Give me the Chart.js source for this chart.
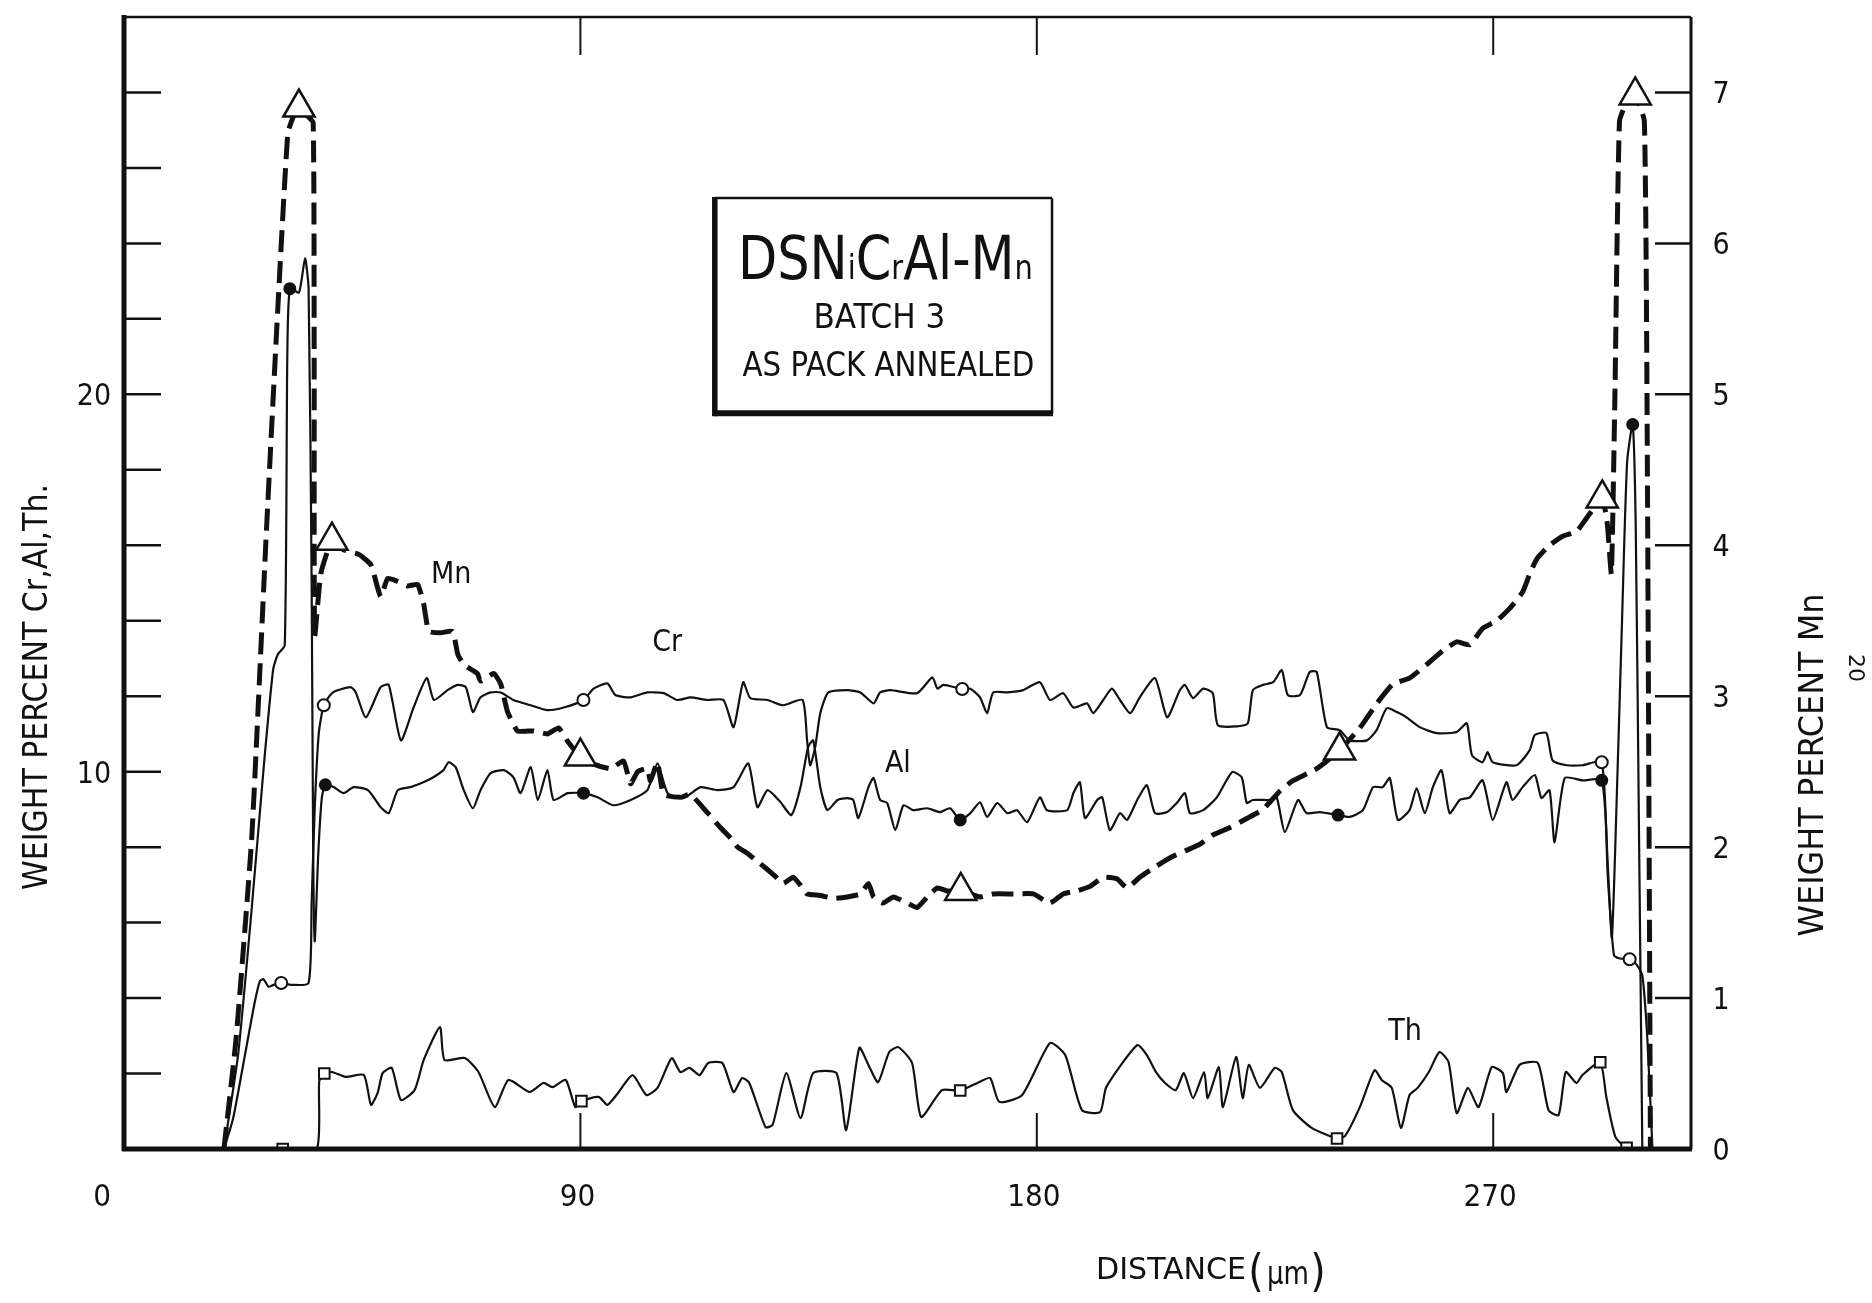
<!DOCTYPE html>
<html>
<head>
<meta charset="utf-8">
<script src="https://cdn.jsdelivr.net/npm/chart.js@4.4.1/dist/chart.umd.min.js"></script>
<style>
  html, body { margin: 0; padding: 0; background: #fff; }
  canvas { display: block; }
</style>
</head>
<body>
<canvas id="profileChart" width="1872" height="1303"></canvas>
<script>
// distance (um), weight percent
const crProfile = [[19.7,0],[21.5,0.8],[24.0,2.6],[25.8,3.9],[26.8,4.45],[27.5,4.5],[28.5,4.3],[29.5,4.35],[31.0,4.4],[33.0,4.35],[36.4,4.4],[37.0,6.5],[37.6,9.0],[38.4,11.0],[39.4,11.76],
  [41.2,12.1],[44.7,12.24],[45.7,12.1],[47.7,11.44],[50.6,12.24],[52.2,12.3],[54.6,10.83],[57.1,11.7],[59.7,12.48],[61.1,11.9],[63.8,12.16],[65.8,12.3],[67.4,12.24],[68.8,11.58],[70.3,11.97],[72.3,12.1],[74.3,12.1],[76.8,11.9],[80.2,11.76],[83.5,11.63],[86.7,11.7],[90.6,11.9],
  [92.6,12.2],[95.3,12.34],[96.9,12.03],[99.9,11.97],[103.2,12.1],[106.4,12.08],[109.1,11.9],[111.7,11.97],[115.0,11.9],[118.2,11.9],[120.2,11.18],[122.1,12.37],[123.5,11.95],[126.9,11.9],[130.0,11.76],[133.8,11.9],
  [134.7,10.83],[135.3,10.17],[136.3,10.65],[137.3,11.55],[138.9,12.1],[142.6,12.16],[145.2,12.1],[147.8,11.81],[149.1,12.1],[151.1,12.16],[156.4,12.08],[159.4,12.5],[160.4,12.2],[161.6,12.3],[165.3,12.19],[166.9,12.2],[168.8,11.97],[170.2,11.55],[171.4,12.1],[174.2,12.1],[177.3,12.16],[180.6,12.37],[182.6,11.9],[185.2,12.08],[187.2,11.7],[189.9,11.81],[191.1,11.55],[193.1,11.9],[194.8,12.2],[196.4,11.9],[198.4,11.55],[200.3,11.97],[203.3,12.48],[205.7,11.44],[208.2,12.16],[209.2,12.3],[210.8,11.95],[212.8,12.2],[214.7,12.08],[215.7,11.23],[219.5,11.2],[221.6,11.28],[222.6,12.16],[224.6,12.3],[226.6,12.37],[228.3,12.69],[229.5,12.03],[231.9,12.03],[233.8,12.64],[235.2,12.64],[237.2,11.18],[239.7,11.1],[241.7,10.83],[245.1,10.83],[247.0,11.1],[249.0,11.68],[251.0,11.58],[252.9,11.44],[255.5,11.18],[258.9,11.02],[262.8,11.05],[264.8,11.28],[265.8,10.44],[267.9,10.25],[268.9,10.52],[269.9,10.25],[274.6,10.17],[277.2,10.57],[278.2,10.97],[280.5,11.02],[281.7,10.3],[284.5,10.17],[287.6,10.17],[291.4,10.25],
  [292.6,7.2],[293.8,5.14],[295.0,5.05],[296.9,5.03],[298.2,4.9],[299.4,4.6],[300.4,2.9],[301.4,0]];

const alProfile = [[19.7,0],[22.5,2.5],[25.2,6.4],[27.6,10.2],[29.4,12.7],[30.3,13.1],[31.7,13.35],[32.2,21.0],[32.7,22.8],[34.5,22.7],[35.7,23.6],[36.4,22.8],[37.0,15.0],[37.3,8.0],[37.6,5.5],[38.3,7.8],[39.0,9.3],[39.7,9.65],
  [41.4,9.59],[43.3,9.43],[45.3,9.59],[48.1,9.51],[50.6,9.06],[52.2,8.9],[54.0,9.51],[56.5,9.59],[59.9,9.77],[63.0,10.04],[64.0,10.25],[65.4,10.12],[67.0,9.51],[68.8,9.03],[70.3,9.51],[72.3,9.96],[74.9,10.04],[76.8,9.85],[78.2,9.43],[80.2,10.12],[81.6,9.25],[83.5,10.04],[84.7,9.25],[87.5,9.43],[90.6,9.43],
  [93.4,9.32],[96.5,9.11],[99.9,9.25],[103.2,9.51],[105.2,10.22],[107.2,9.43],[110.3,9.3],[113.7,9.59],[117.0,9.51],[120.2,9.59],[123.1,10.22],[124.9,9.06],[126.9,9.51],[129.4,9.2],[131.6,8.85],[133.4,9.59],[134.9,10.65],[135.9,10.83],[137.3,9.59],[138.7,8.98],[140.7,9.25],[142.6,9.3],[143.8,9.25],[144.8,8.77],[146.8,9.59],[147.8,9.83],[149.1,9.25],[150.5,9.17],[152.1,8.45],[153.7,9.11],[155.6,8.98],[158.4,9.03],[160.9,8.93],[162.9,9.03],[164.9,8.72],
  [166.9,8.9],[168.8,9.19],[170.2,8.8],[172.2,9.17],[174.2,8.9],[176.1,8.98],[178.1,8.66],[180.6,9.32],[182.0,8.98],[186.0,8.98],[187.2,9.43],[188.5,9.72],[189.5,8.77],[191.9,9.25],[192.9,9.32],[194.4,8.45],[196.4,8.9],[197.8,8.72],[199.8,9.25],[201.7,9.64],[203.3,8.9],[205.7,8.93],[207.6,9.17],[209.2,9.43],[210.2,8.9],[212.8,8.98],[215.5,9.32],[218.5,9.99],[220.4,9.85],[221.4,9.17],[222.6,9.25],[226.0,9.25],[227.3,9.32],[228.9,8.4],[231.5,9.25],[233.2,8.9],[235.8,8.93],[239.4,8.85],
  [241.7,8.8],[244.3,8.98],[246.3,9.59],[248.2,9.59],[249.6,9.83],[251.2,8.72],[253.5,8.98],[254.9,9.56],[256.5,8.9],[258.1,9.59],[259.8,10.04],[261.4,8.9],[263.4,9.25],[265.4,9.32],[267.9,9.77],[269.9,8.72],[272.6,9.72],[273.8,9.25],[275.8,9.59],[278.2,9.91],[279.5,9.3],[281.1,9.51],[282.1,8.13],[284.1,9.83],[287.6,9.77],[291.4,9.77],
  [292.6,7.5],[293.4,5.6],[294.4,9.5],[295.4,14.0],[296.4,18.2],[297.5,19.2],[298.1,16.5],[298.7,9.0],[299.4,0]];

const thProfile = [[19.7,0],[31.3,0],[38.0,0],[38.5,1.8],[39.5,2.0],[41.0,2.04],[43.7,1.91],[47.3,1.96],[48.7,1.17],[50.0,1.48],[51.0,2.01],[52.8,2.15],[54.6,1.3],[57.3,1.56],[59.1,2.36],[62.3,3.23],[63.2,2.36],[67.2,2.41],[69.9,2.04],[73.1,1.11],[75.8,1.83],[80.0,1.51],[82.7,1.75],[84.5,1.64],[87.1,1.83],[89.0,1.11],[90.2,1.27],
  [93.6,1.38],[95.3,1.17],[97.1,1.43],[100.3,1.96],[103.0,1.43],[105.2,1.62],[108.0,2.41],[109.7,2.04],[111.5,2.15],[113.5,1.96],[115.2,2.28],[118.0,2.28],[120.2,1.51],[121.9,1.88],[123.3,1.75],[126.5,0.58],[127.9,0.64],[130.6,2.01],[133.4,0.82],[135.9,2.01],[140.5,2.01],[142.4,0.5],[145.0,2.68],[147.0,2.17],[148.7,1.77],[150.9,2.57],[152.7,2.7],[155.4,2.28],[157.2,0.85],[161.3,1.56],[164.9,1.55],
  [168.6,1.77],[170.8,1.88],[172.6,1.25],[177.1,1.43],[182.6,2.81],[185.6,2.49],[188.9,1.03],[192.5,0.98],[193.7,1.64],[199.8,2.75],[201.7,2.49],[203.5,2.04],[205.3,1.75],[207.4,1.56],[209.0,2.01],[210.8,1.35],[213.0,2.04],[213.7,1.35],[215.9,2.17],[216.7,1.11],[219.3,2.44],[220.6,1.35],[221.8,2.23],[224.0,1.62],[226.9,2.15],[228.3,2.04],[230.5,1.03],[234.2,0.56],[239.2,0.28],
  [240.8,0.35],[243.7,1.11],[246.6,2.09],[248.0,1.83],[250.0,1.62],[251.8,0.56],[253.5,1.43],[255.1,1.62],[257.3,2.04],[259.4,2.57],[261.2,2.3],[262.8,0.95],[265.0,1.62],[267.1,1.11],[269.7,2.17],[271.9,2.01],[272.6,1.51],[275.2,2.23],[278.8,2.28],[280.9,1.03],[282.9,0.9],[284.3,2.04],[286.4,1.75],[287.6,1.96],[291.1,2.3],[292.3,1.38],[294.1,0.32],[296.3,0.03],[300.8,0]];

// Mn is read on the right-hand axis
const mnProfile = [[19.7,0],[22.1,0.73],[25.2,2.07],[28.0,4.04],[30.3,5.55],[32.3,6.73],[33.4,6.84],[34.5,6.9],[36.0,6.85],[37.3,6.8],[37.5,5.2],[37.6,3.4],[38.8,3.81],[41.0,4.03],
  [43.3,3.97],[46.3,3.94],[48.7,3.87],[50.6,3.66],[52.0,3.78],[54.0,3.76],[55.9,3.73],[57.9,3.74],[59.1,3.61],[60.1,3.43],[62.4,3.42],[64.8,3.43],[65.8,3.28],[67.0,3.21],[69.7,3.15],[70.3,3.1],[72.9,3.15],[74.3,3.08],[75.6,2.9],[77.6,2.77],[80.8,2.77],[83.5,2.75],[85.7,2.79],[87.5,2.7],[90.0,2.6],
  [92.6,2.55],[95.9,2.52],[98.5,2.57],[99.9,2.42],[101.3,2.5],[103.2,2.52],[103.8,2.44],[105.2,2.56],[106.4,2.35],[109.7,2.33],[111.7,2.35],[115.0,2.23],[117.6,2.13],[119.6,2.06],[121.0,2.0],[122.9,1.96],[125.5,1.89],[128.0,1.82],[130.0,1.76],[132.0,1.8],[133.8,1.73],[134.7,1.69],[137.3,1.68],[139.9,1.66],[142.6,1.67],[145.2,1.69],[146.8,1.76],[147.8,1.67],[149.7,1.63],[151.7,1.67],[154.4,1.63],[156.4,1.6],[158.4,1.67],[160.4,1.73],[162.3,1.71],[165.0,1.71],
  [168.8,1.67],[171.4,1.69],[175.3,1.69],[179.3,1.69],[182.6,1.63],[185.2,1.69],[187.9,1.71],[190.5,1.74],[193.1,1.8],[195.8,1.79],[197.8,1.73],[200.3,1.8],[202.9,1.86],[206.3,1.93],[209.6,1.98],[212.2,2.02],[214.7,2.08],[218.1,2.13],[221.4,2.19],[224.6,2.25],[227.9,2.37],[230.5,2.44],[235.2,2.52],[239.7,2.64],
  [243.7,2.79],[247.0,2.95],[250.2,3.08],[253.5,3.12],[256.9,3.21],[260.0,3.3],[262.8,3.36],[265.4,3.34],[267.9,3.45],[270.7,3.5],[273.2,3.58],[275.8,3.69],[277.2,3.81],[278.6,3.91],[281.1,4.0],[283.7,4.06],[286.4,4.09],[288.4,4.18],[291.5,4.31],
  [292.5,4.14],[293.3,3.81],[294.0,5.0],[294.9,6.81],[296.5,6.95],[298.0,6.98],[299.8,6.81],[300.4,4.5],[301.0,0]];

// distances carrying a plotted symbol
const crMarks = [31.0, 39.4, 90.6, 165.3, 291.4, 296.9];
const alMarks = [32.7, 39.7, 90.6, 164.9, 239.4, 291.4, 297.5];
const thMarks = [31.3, 39.5, 90.2, 164.9, 239.2, 291.1, 296.3];
const mnMarks = [34.5, 41.0, 90.0, 165.0, 239.7, 291.5, 298.0];

// axes
const distTicks = [90, 180, 270];
const distLabels = [0, 90, 180, 270];
const leftTicks = [2, 4, 6, 8, 10, 12, 14, 16, 18, 20, 22, 24, 26, 28];
const leftLabels = [10, 20];
const rightTicks = [1, 2, 3, 4, 5, 6, 7];
const rightLabels = [0, 1, 2, 3, 4, 5, 6, 7];

const curveTags = [
  { text: 'Mn', x: 64.5, y: 15.3 },
  { text: 'Cr', x: 107.1, y: 13.5 },
  { text: 'Al', x: 152.6, y: 10.28 },
  { text: 'Th', x: 252.6, y: 3.18 }
];

const INK = '#111';
const FONT = '"DejaVu Sans Condensed", "DejaVu Sans", sans-serif';

function toPoints(pairs) {
  return pairs.map(p => ({ x: p[0], y: p[1] }));
}

function markSize(marks, r) {
  return c => (c.raw && marks.includes(c.raw.x)) ? r : 0;
}

function stroke(ctx, x0, y0, x1, y1, w) {
  ctx.lineWidth = w;
  ctx.beginPath();
  ctx.moveTo(x0, y0);
  ctx.lineTo(x1, y1);
  ctx.stroke();
}

// text centred on (x, y) by its cap height; width squeezes it to a given length
function putText(ctx, str, x, y, size, opts) {
  opts = opts || {};
  ctx.save();
  ctx.translate(x, y);
  if (opts.rotate) ctx.rotate(opts.rotate);
  ctx.font = (opts.weight || 'normal') + ' ' + size + 'px ' + FONT;
  ctx.textAlign = 'center';
  ctx.textBaseline = 'alphabetic';
  if (opts.width) ctx.scale(opts.width / ctx.measureText(str).width, 1);
  ctx.fillStyle = INK;
  ctx.fillText(str, 0, size * 0.365);
  ctx.restore();
}

const paperFrame = {
  id: 'paperFrame',
  afterDatasetsDraw(chart) {
    const ctx = chart.ctx;
    const a = chart.chartArea;
    const sx = chart.scales.x, sl = chart.scales.yL, sr = chart.scales.yR;
    ctx.save();
    ctx.strokeStyle = INK;

    // frame
    stroke(ctx, a.left, a.top - 2, a.left, a.bottom + 2, 5);
    stroke(ctx, a.left - 2, a.bottom, a.right + 1, a.bottom, 5);
    stroke(ctx, a.left, a.top, a.right, a.top, 2.5);
    stroke(ctx, a.right, a.top, a.right, a.bottom, 3);

    // inward ticks
    leftTicks.forEach(v => {
      const p = sl.getPixelForValue(v);
      stroke(ctx, a.left, p, a.left + 37, p, 2.5);
    });
    rightTicks.forEach(v => {
      const p = sr.getPixelForValue(v);
      stroke(ctx, a.right - 36, p, a.right, p, 2.5);
    });
    distTicks.forEach(v => {
      const p = sx.getPixelForValue(v);
      stroke(ctx, p, a.bottom, p, a.bottom - 36, 2);
      stroke(ctx, p, a.top, p, a.top + 38, 2);
    });

    // tick labels
    leftLabels.forEach(v => putText(ctx, String(v), a.left - 30, sl.getPixelForValue(v), 30));
    rightLabels.forEach(v => putText(ctx, String(v), a.right + 30, sr.getPixelForValue(v), 30));
    distLabels.forEach(v => {
      const shift = v === 0 ? -22 : -3;
      putText(ctx, String(v), sx.getPixelForValue(v) + shift, a.bottom + 46, 31);
    });

    // axis titles
    putText(ctx, 'WEIGHT PERCENT Cr,Al,Th.', 35, 687, 34, { rotate: -Math.PI / 2, width: 406 });
    putText(ctx, 'WEIGHT PERCENT Mn', a.right + 120, 765, 34, { rotate: -Math.PI / 2, width: 343 });
    putText(ctx, '20', 1857, 668, 22, { rotate: Math.PI / 2, width: 28 });

    const dx = 1096;
    putText(ctx, 'DISTANCE', dx + 75, 1268, 30, { width: 150 });
    putText(ctx, '(', dx + 160, 1270, 44);
    putText(ctx, 'μm', dx + 192, 1272, 32, { width: 42 });
    putText(ctx, ')', dx + 222, 1270, 44);

    // curve names
    curveTags.forEach(t => putText(ctx, t.text, sx.getPixelForValue(t.x), sl.getPixelForValue(t.y), 30));

    // specimen box
    const bx0 = sx.getPixelForValue(116.5), bx1 = sx.getPixelForValue(183.0);
    const by0 = sl.getPixelForValue(25.2), by1 = sl.getPixelForValue(19.5);
    ctx.fillStyle = '#fff';
    ctx.fillRect(bx0, by0, bx1 - bx0, by1 - by0);
    stroke(ctx, bx0, by0, bx1, by0, 2.5);
    stroke(ctx, bx1, by0, bx1, by1, 2.5);
    stroke(ctx, bx0, by0 - 1, bx0, by1 + 3, 5.5);
    stroke(ctx, bx0, by1, bx1 + 1, by1, 6);

    const cx = (bx0 + bx1) / 2;
    const pieces = [['DSN', 60], ['i', 34], ['C', 60], ['r', 34], ['Al-M', 60], ['n', 34]];
    ctx.fillStyle = INK;
    ctx.textBaseline = 'alphabetic';
    ctx.textAlign = 'left';
    let total = 0;
    pieces.forEach(p => {
      ctx.font = '200 ' + p[1] + 'px ' + FONT;
      total += ctx.measureText(p[0]).width;
    });
    const squeeze = 295 / total;
    ctx.save();
    ctx.translate(cx + 2 - 295 / 2, by0 + 81);
    ctx.scale(squeeze, 1);
    let run = 0;
    pieces.forEach(p => {
      ctx.font = '200 ' + p[1] + 'px ' + FONT;
      ctx.fillText(p[0], run, 0);
      run += ctx.measureText(p[0]).width;
    });
    ctx.restore();
    putText(ctx, 'BATCH 3', cx - 4, by0 + 118, 33, { width: 132 });
    putText(ctx, 'AS PACK ANNEALED', cx + 5, by0 + 166, 33, { width: 292 });

    ctx.restore();
  }
};

const ctx = document.getElementById('profileChart').getContext('2d');
const chart = new Chart(ctx, {
  type: 'line',
  data: {
    datasets: [
      {
        label: 'Mn', data: toPoints(mnProfile), yAxisID: 'yR', order: 0,
        borderColor: INK, borderWidth: 5, borderDash: [22, 9], tension: 0.15,
        pointStyle: 'triangle', pointRadius: markSize(mnMarks, 18),
        pointBackgroundColor: '#fff', pointBorderColor: INK, pointBorderWidth: 2.5
      },
      {
        label: 'Cr', data: toPoints(crProfile), yAxisID: 'yL', order: 1,
        borderColor: INK, borderWidth: 2.2, tension: 0.2,
        pointStyle: 'circle', pointRadius: markSize(crMarks, 6),
        pointBackgroundColor: '#fff', pointBorderColor: INK, pointBorderWidth: 2
      },
      {
        label: 'Al', data: toPoints(alProfile), yAxisID: 'yL', order: 2,
        borderColor: INK, borderWidth: 2.2, tension: 0.2,
        pointStyle: 'circle', pointRadius: markSize(alMarks, 5.5),
        pointBackgroundColor: INK, pointBorderColor: INK, pointBorderWidth: 2
      },
      {
        label: 'Th', data: toPoints(thProfile), yAxisID: 'yL', order: 3,
        borderColor: INK, borderWidth: 2.2, tension: 0.2,
        pointStyle: 'rect', pointRadius: markSize(thMarks, 7.5),
        pointBackgroundColor: '#fff', pointBorderColor: INK, pointBorderWidth: 2
      }
    ]
  },
  options: {
    responsive: false,
    animation: false,
    events: [],
    layout: { autoPadding: false, padding: { left: 124, right: 181, top: 17, bottom: 154 } },
    plugins: { legend: { display: false }, tooltip: { enabled: false } },
    scales: {
      x: { type: 'linear', min: 0, max: 309, display: false },
      yL: { type: 'linear', position: 'left', min: 0, max: 30, display: false },
      yR: { type: 'linear', position: 'right', min: 0, max: 7.5, display: false }
    }
  },
  plugins: [paperFrame]
});
</script>
</body>
</html>
